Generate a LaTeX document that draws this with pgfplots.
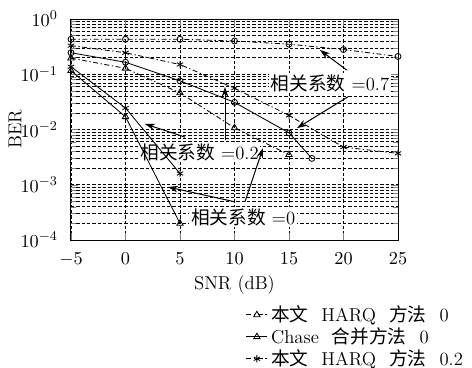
\documentclass[border=0pt]{standalone}
\usepackage{fontspec}
\usepackage{pgfplots}
\pgfplotsset{compat=1.18}
\usetikzlibrary{arrows.meta}
\newfontfamily\cjkfont{Noto Sans CJK SC}
\newcommand{\cjk}[1]{{\cjkfont #1}}
\newcommand{\gap}{\hspace{0.7em}}
\begin{document}
\fontsize{11.2}{13.4}\selectfont
\begin{tikzpicture}
\begin{axis}[
  name=ax,
  scale only axis,
  width=196.2pt, height=132.6pt,
  xmin=-5, xmax=25,
  xtick={-5,0,5,10,15,20,25},
  ymode=log, ymin=1e-4, ymax=1,
  ytick={1e-4,1e-3,1e-2,1e-1,1},
  grid=both,
  major grid style={black, line width=0.35pt, dash pattern=on 2pt off 1.2pt},
  minor grid style={black, line width=0.35pt, dash pattern=on 2pt off 1.2pt},
  axis line style={black, line width=0.6pt},
  tick align=inside,
  xticklabel style={yshift=-3.5pt},
  yticklabel style={xshift=-4pt},
  xlabel={SNR (dB)},
  xlabel style={yshift=1.5pt},
  ylabel={BER},
  ylabel style={at={(axis description cs:-0.171,0.5)}, anchor=center},
  every axis plot/.append style={black, line width=0.5pt},
  legend cell align=left,
  legend style={draw=none, fill=none, at={(axis description cs:1.225,-0.265)}, anchor=north east, row sep=-2pt},
  legend image code/.code={\draw[mark repeat=2,mark phase=2,#1] plot coordinates {(0cm,0cm)(0.22cm,0cm)(0.44cm,0cm)};},
]
% annotations (labels)
\node[fill=white, inner sep=1pt] at (axis cs:18.76,0.0695) {\cjk{相关系数} =0.7};
\node[fill=white, inner sep=1pt] at (axis cs:6.79,0.0039) {\cjk{相关系数} =0.2};
\node[fill=white, inner sep=1pt] at (axis cs:10.8,0.00026) {\cjk{相关系数} =0};

% legend series
\addplot[dash pattern=on 3pt off 1.5pt on 0.8pt off 1.5pt, mark=triangle, mark size=2.2pt, mark options={solid}]
  coordinates {(-5,0.196)(0,0.128)(5,0.046)(10,0.0107)(15,0.0035)};
\addlegendentry{\cjk{本文}\gap HARQ\gap\cjk{方法}\gap 0}
\addplot[solid, mark=triangle, mark size=2.2pt]
  coordinates {(-5,0.116)(0,0.017)(5,0.0002)};
\addlegendentry{Chase\gap\cjk{合并方法}\gap 0}
\addplot[dash pattern=on 3pt off 1.5pt on 0.8pt off 1.5pt, mark=asterisk, mark size=2.2pt, mark options={solid}]
  coordinates {(-5,0.33)(0,0.245)(5,0.15)(10,0.056)(15,0.018)(20,0.0048)(25,0.0037)};
\addlegendentry{\cjk{本文}\gap HARQ\gap\cjk{方法}\gap 0.2}

% other series
\addplot[forget plot, solid, mark=asterisk, mark size=2.2pt]
  coordinates {(-5,0.137)(0,0.0245)(5,0.0016)};
\addplot[forget plot, dash pattern=on 3pt off 1.5pt on 0.8pt off 1.5pt, mark=o, mark size=1.8pt, mark options={solid}]
  coordinates {(-5,0.43)(0,0.43)(5,0.43)(10,0.40)(15,0.35)(20,0.28)(25,0.21)};
\addplot[forget plot, solid, mark=o, mark size=1.8pt]
  coordinates {(-5,0.245)(0,0.165)(5,0.076)(10,0.031)(15,0.0087)(17.1,0.003)};

% arrows
\draw[-{Stealth[length=6pt,width=4pt]}, line width=0.6pt] (axis cs:20.3,0.119) -- (axis cs:17.84,0.275);
\draw[-{Stealth[length=6pt,width=4pt]}, line width=0.6pt] (axis cs:20.4,0.039) -- (axis cs:15.73,0.0106);
\draw[-{Stealth[length=6pt,width=4pt]}, line width=0.6pt] (axis cs:9.13,0.0065) -- (axis cs:9.13,0.059);
\draw[-{Stealth[length=6pt,width=4pt]}, line width=0.6pt] (axis cs:5.46,0.0073) -- (axis cs:1.79,0.0126);
\draw[-{Stealth[length=6pt,width=4pt]}, line width=0.6pt] (axis cs:10.96,0.00049) -- (axis cs:12.61,0.0046);
\draw[-{Stealth[length=6pt,width=4pt]}, line width=0.6pt] (axis cs:10.05,0.00049) -- (axis cs:3.9,0.00091);
\end{axis}
\pgfresetboundingbox
\path ([shift={(-42.6pt,-76.2pt)}]ax.south west) rectangle ([shift={(44.4pt,11.4pt)}]ax.north east);
\end{tikzpicture}
\end{document}
